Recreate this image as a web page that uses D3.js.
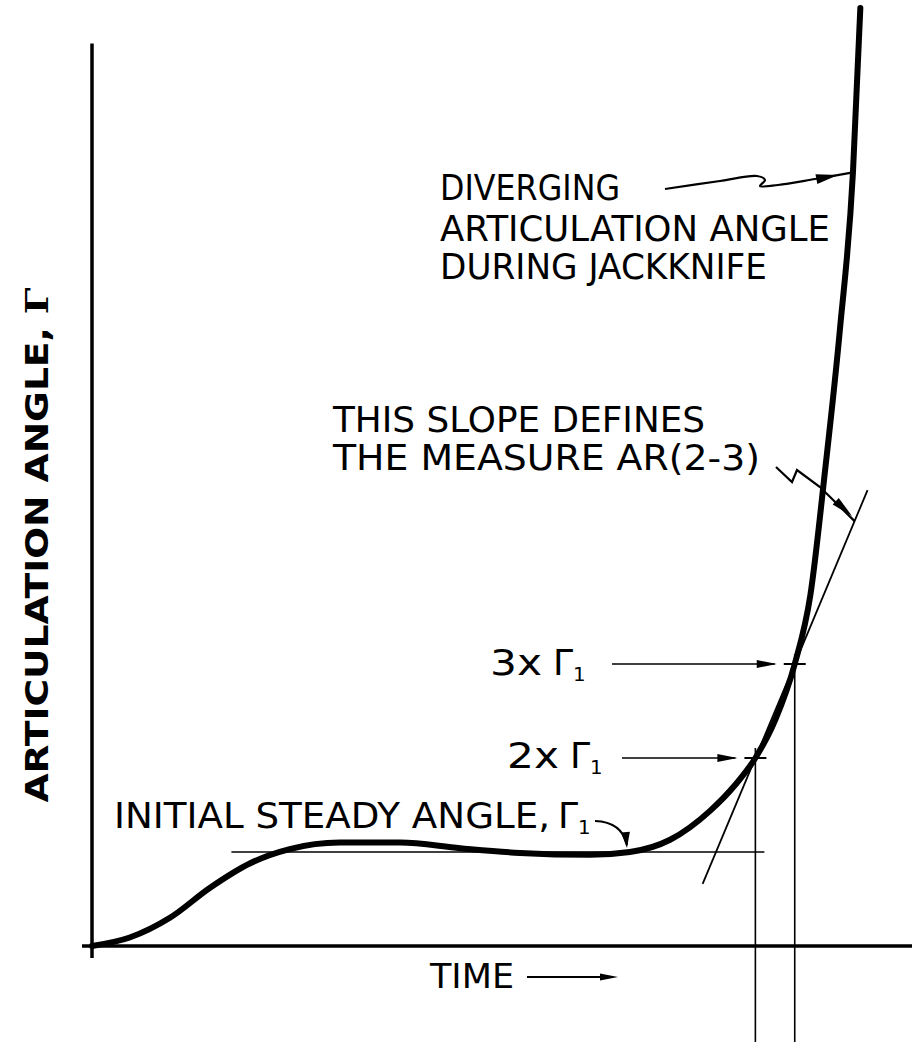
<!DOCTYPE html>
<html lang="en">
<head>
<meta charset="UTF-8">
<title>Articulation angle during jackknife</title>
<script src="https://d3js.org/d3.v7.min.js"></script>
<style>
  body { margin: 0; background: #fff; }
  svg text { font-family: "DejaVu Sans", sans-serif; fill: #000; }
</style>
</head>
<body>
<svg id="chart" width="914" height="1050"></svg>
<script>
// curve: time (arbitrary units) and articulation angle in multiples of Γ1
const time  = [0, 0.46, 0.95, 1.44, 1.93, 2.41, 3.02, 3.76, 4.49, 5.22, 6.07, 6.56, 7.05, 7.54, 7.84, 8.09, 8.33, 8.57, 8.76, 8.94, 9.12, 9.28, 9.37];
const angle = [0, 0.09, 0.30, 0.62, 0.88, 1.03, 1.10, 1.10, 1.04, 0.99, 0.97, 1.00, 1.13, 1.44, 1.71, 2.0, 2.40, 3.0, 3.73, 5.06, 6.55, 8.23, 9.98];
const gamma1 = 1;
const multiples = [2, 3];        // 2xΓ1, 3xΓ1
const multTime = [8.09, 8.57];   // time where the curve reaches them
const steadyFrom = 1.7, steadyTo = 8.2;

const svg = d3.select("#chart");
const x = d3.scaleLinear().domain([0, 10]).range([92, 912]);
const y = d3.scaleLinear().domain([0, 10]).range([946, 6]);

const pts = time.map((t, i) => [t, angle[i]]);

function head(g, from, tip, len = 20, w = 9) {
  const a = Math.atan2(tip[1] - from[1], tip[0] - from[0]);
  const bx = tip[0] - len * Math.cos(a), by = tip[1] - len * Math.sin(a);
  const nx = -Math.sin(a) * w / 2, ny = Math.cos(a) * w / 2;
  g.append("path")
    .attr("d", `M${tip[0]},${tip[1]}L${bx + nx},${by + ny}L${bx - nx},${by - ny}Z`)
    .attr("fill", "#000");
}

// axes
svg.append("line").attr("x1", x(0)).attr("x2", x(0)).attr("y1", y(9.6)).attr("y2", y(0) + 12)
  .attr("stroke", "#000").attr("stroke-width", 3.5);
svg.append("line").attr("x1", x(0) - 10).attr("x2", x(10)).attr("y1", y(0)).attr("y2", y(0))
  .attr("stroke", "#000").attr("stroke-width", 3.5);

// initial steady angle reference line
svg.append("line").attr("x1", x(steadyFrom)).attr("x2", x(steadyTo)).attr("y1", y(gamma1)).attr("y2", y(gamma1))
  .attr("stroke", "#000").attr("stroke-width", 1.6);

// chord through 2xΓ1 and 3xΓ1 points
const slope = (multTime[1] - multTime[0]) / (multiples[1] - multiples[0]);
const tAt = v => multTime[0] + (v - multiples[0]) * slope;
svg.append("line")
  .attr("x1", x(tAt(0.66))).attr("y1", y(0.66))
  .attr("x2", x(tAt(4.85))).attr("y2", y(4.85))
  .attr("stroke", "#000").attr("stroke-width", 1.8);

// vertical drop lines, tick marks and arrows at the multiples
const g = svg.append("g");
multiples.forEach((m, i) => {
  const px = x(multTime[i]), py = y(m * gamma1);
  g.append("line").attr("x1", px).attr("x2", px).attr("y1", py - 10).attr("y2", 1042)
    .attr("stroke", "#000").attr("stroke-width", 1.6);
  g.append("line").attr("x1", px - 11).attr("x2", px + 11).attr("y1", py).attr("y2", py)
    .attr("stroke", "#000").attr("stroke-width", 2);
  const startX = i === 0 ? 622 : 612;
  g.append("line").attr("x1", startX).attr("x2", px - 20).attr("y1", py).attr("y2", py)
    .attr("stroke", "#000").attr("stroke-width", 1.6);
  head(g, [startX, py], [px - 18, py], 20, 8);
});

// main curve
svg.append("path").datum(pts)
  .attr("d", d3.line().x(d => x(d[0])).y(d => y(d[1])).curve(d3.curveMonotoneX))
  .attr("fill", "none").attr("stroke", "#000").attr("stroke-width", 6).attr("stroke-linecap", "round");

// annotation arrows
const ann = svg.append("g").attr("fill", "none").attr("stroke", "#000").attr("stroke-width", 2.2);
const smooth = d3.line().curve(d3.curveCatmullRom.alpha(0.5));
const divTip = [x(9.28), y(8.23)];
ann.append("path").attr("d", smooth([[665, 189], [720, 181], [757, 176], [765, 180], [760, 186], [778, 185], [815, 179], divTip]));
head(svg, [812, 180], [838, 175], 22, 10);

const arTip = [x(tAt(4.52)), y(4.52)];
ann.append("path").attr("d", d3.line()([[776, 467], [792, 482], [797, 470], [820, 487], arTip]));
head(svg, [820, 487], [852, 516], 22, 9);

ann.append("path").attr("d", `M595,821 Q622,822 627,845`);
head(svg, [625, 828], [627, 848], 16, 9);

// text
function label(px, py, str, len, size = 36) {
  const t = svg.append("text").attr("x", px).attr("y", py).attr("font-size", size).text(str);
  if (len) t.attr("textLength", len).attr("lengthAdjust", "spacingAndGlyphs");
  return t;
}
function gammaSub(px, py, size = 36) {
  const t = svg.append("text").attr("x", px).attr("y", py).attr("font-size", size).attr("font-family", "DejaVu Serif");
  t.append("tspan").text("Γ");
  t.append("tspan").attr("font-size", size * 0.55).attr("dy", 6).attr("font-family", "DejaVu Sans").text("1");
}

label(440, 200, "DIVERGING", 180);
label(440, 241, "ARTICULATION ANGLE", 390);
label(440, 279, "DURING JACKKNIFE", 327);
label(333, 432, "THIS SLOPE DEFINES", 372);
label(333, 470, "THE MEASURE AR(2-3)", 427);
label(114, 828, "INITIAL STEADY ANGLE,", 436);
gammaSub(558, 828);
label(490, 675, "3x", 52);
gammaSub(553, 675);
label(507, 768, "2x", 52);
gammaSub(570, 768);
label(430, 988, "TIME", 84, 34);
svg.append("line").attr("x1", 527).attr("x2", 604).attr("y1", 977).attr("y2", 977).attr("stroke", "#000").attr("stroke-width", 2);
head(svg, [527, 977], [618, 977], 18, 7);

// y axis title
const yt = svg.append("text").attr("transform", "translate(48,545) rotate(-90)")
  .attr("text-anchor", "middle").attr("font-size", 32).attr("font-weight", "bold")
  .attr("textLength", 515).attr("lengthAdjust", "spacingAndGlyphs");
yt.append("tspan").text("ARTICULATION  ANGLE, ");
yt.append("tspan").attr("font-family", "DejaVu Serif").text("Γ");
</script>
</body>
</html>
